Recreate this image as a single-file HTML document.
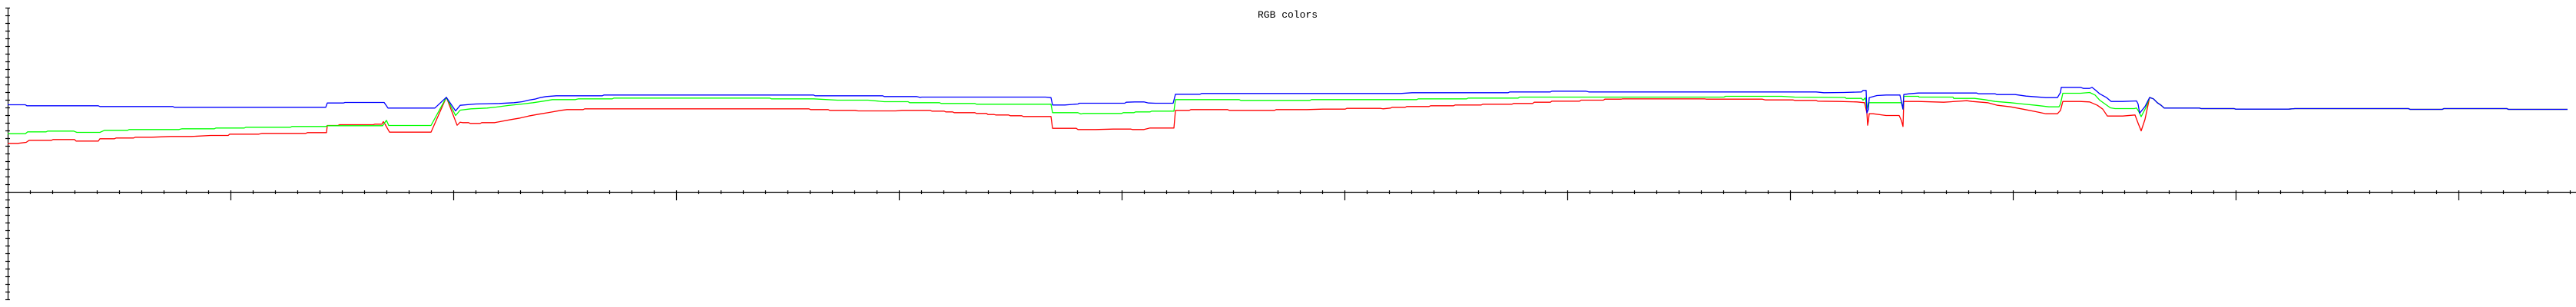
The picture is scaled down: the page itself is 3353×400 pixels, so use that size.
<!DOCTYPE html>
<html><head><meta charset="utf-8"><style>
html,body{margin:0;padding:0;background:#fff;}
svg{display:block;}
</style></head><body>
<svg id="chart" width="3353" height="400" viewBox="0 0 3353 400" xmlns="http://www.w3.org/2000/svg">
<text x="1676" y="23" text-anchor="middle" font-family="Liberation Mono, monospace" font-size="13" fill="#000">RGB colors</text>
<g id="axes"></g>
<g id="series"></g>
</svg>
<script>
// sample positions / values (value scale: larger value = lower on chart)
const redT = [10,23,34,38,67,69,97,99,128,130,149,151,174,176,197,222,249,274,297,299,337,341,398,400,425,426,440,442,486,488,497,499,501,507,561,581,595,599,602,610,612,625,627,644,652,665,677,688,701,715,730,738,759,761,1053,1055,1078,1080,1113,1117,1166,1174,1211,1213,1229,1231,1240,1242,1269,1271,1284,1286,1294,1296,1313,1315,1330,1332,1368,1370,1401,1403,1426,1449,1472,1474,1489,1497,1528,1530,1548,1550,1598,1600,1659,1661,1701,1722,1751,1753,1797,1800,1810,1812,1829,1831,1860,1862,1892,1894,1928,1930,1968,1970,1995,1997,2018,2020,2056,2058,2087,2089,2110,2112,2219,2221,2294,2298,2334,2336,2364,2366,2395,2417,2427,2430,2431,2432,2433,2438,2455,2472,2475,2477,2478,2497,2530,2560,2567,2587,2600,2617,2633,2650,2663,2678,2682,2685,2707,2720,2730,2737,2743,2763,2779,2783,2787,2792,2798,2803,2808,2813,2817];
const redV = [186.3,186.3,185,182.3,182.3,181.3,181.3,183.3,183.3,180.3,180.3,179.3,179.3,178.3,178.3,177.3,177.3,176,176,174.3,174.3,173.3,173.3,172.3,172.3,163,163,162,162,161.3,161.3,158,161,171.7,171.7,126.3,162.7,158.7,159.3,159.3,160.3,160.3,159.3,159.3,157.7,155.3,153.3,150.7,148.3,146,143.3,142.3,142.3,141.3,141.3,142.3,142.3,143.3,143.3,144,144,143.3,143.3,144.3,144.3,145.3,145.3,146.3,146.3,147.3,147.3,148.7,148.7,149.3,149.3,150.3,150.3,151.3,151.3,166.7,166.7,168.3,168.3,167.7,167.7,168.3,168.3,166.3,166.3,143.3,143.3,142.3,142.3,143.3,143.3,142.3,142.3,141.7,141.7,140.7,140.7,141.3,140.3,139.3,139.3,138.3,138.3,137.3,137.3,136.3,136.3,135.3,135.3,134.3,134.3,132.7,132.7,131.3,131.3,130,130,128.7,128.7,128.3,128.3,128.7,128.7,129.7,129.7,130.3,130.3,131.3,131.7,132.3,133.3,146.7,162.7,156.7,147.7,147.7,150,150,156.7,164.3,131.7,131.7,132.7,130.7,131.7,133.3,136.7,138.7,141.7,145,147.7,147.7,143.3,131.7,131.7,132.3,136.7,141.7,150.7,150.7,149.3,160,170,155,126.5,128.3,133.3,136.7,140.3];
const greenT = [10,33,36,60,62,96,100,130,136,166,168,233,237,279,281,318,320,378,380,424,426,498,503,506,561,581,593,599,613,634,646,661,680,694,711,719,749,753,797,799,1002,1004,1059,1090,1130,1151,1182,1184,1223,1225,1269,1271,1368,1370,1403,1407,1410,1460,1462,1476,1478,1497,1499,1528,1530,1613,1615,1705,1707,1844,1846,1909,1911,1976,1978,2244,2246,2319,2336,2400,2402,2403,2423,2425,2428,2430,2432,2475,2477,2478,2497,2498,2542,2543,2570,2583,2597,2617,2633,2650,2667,2680,2682,2685,2708,2720,2727,2733,2740,2747,2753,2778,2781,2784,2787,2793,2798,2803,2808,2813,2817];
const greenV = [173.7,173.7,171.3,171.3,170.3,170.3,172,172,169.3,169.3,168.3,168.3,167.3,167.3,166.3,166.3,165.3,165.3,164.3,164.3,163.3,163.3,156.3,163,163,126.3,150,143,141.3,140.3,139,137,135,133.3,130.7,129.3,129.3,128.3,128.3,127.3,127.3,128.3,128.3,130,130,132,132,133.3,133.3,134.3,134.3,135.3,135.3,146.3,146.3,148,147.3,147.3,146.3,146.3,145.3,145.3,144.3,144.3,129.3,129.3,130.3,130.3,129.3,129.3,128.3,128.3,127.3,127.3,126,126,125,125,126,126.5,126.7,127.7,127.7,130,127,141.7,133.3,133.3,141.7,125,125,126,126,127.7,127.7,129.3,131.7,133.3,135,136.7,138.7,138.7,135,121,121,120,123.3,130,135,140,141,141,140.3,145,151.5,140,126.5,128.3,133.3,136.7,140.3];
const blueT = [10,33,35,128,130,225,227,424,426,447,449,500,505,566,581,593,599,619,650,669,680,688,696,703,711,724,784,786,1059,1061,1149,1151,1193,1197,1200,1361,1368,1370,1386,1403,1405,1464,1466,1477,1489,1495,1504,1527,1530,1562,1564,1823,1838,1963,1965,2018,2020,2064,2068,2364,2374,2400,2423,2425,2429,2430,2432,2433,2443,2455,2473,2477,2478,2485,2497,2573,2575,2597,2599,2623,2637,2663,2678,2682,2683,2708,2712,2720,2723,2728,2733,2742,2748,2763,2781,2783,2785,2792,2798,2803,2808,2813,2817];
const blueV = [136,136,137.3,137.3,138.3,138.3,139.3,139.3,133.7,133.7,133,133,140.3,140.3,126.3,144,136.7,135,134.3,133.3,132,130,128.7,126.7,125.3,124.3,124.3,123.3,123.3,124.3,124.3,125.3,125.3,126.3,126,126,126.7,136.3,136.3,135,134,134,132.7,132.3,132.3,133.7,134,134,122.3,122.3,121.3,121.3,120.3,120.3,119.3,119.3,118.3,118.3,119.3,119.3,120.3,120,119.3,117.3,117.3,146.7,141.7,126.7,124,123.3,123.3,141.7,122.7,121.7,120.7,120.7,121.7,121.7,122.7,122.7,124.7,126.7,126.7,120,113.3,113.3,114.7,114.7,113.3,117.3,121.7,126.7,131.7,131.7,131,135,147,138.3,126.5,128.3,133.3,136.7,140.3];
// shared tail (after channels converge)
const tailT = [2863,2865,2908,2910,2979,2987,3135,3137,3179,3181,3263,3265,3342];
const tailV = [140.3,141,141,141.7,141.7,141,141,142,142,141,141,142,142];
const yTickValues = [10,20,30,40,50,60,70,80,90,100,110,120,130,140,150,160,170,180,190,200,210,220,230,240,250,260,270,280,290,300,310,320,330,340,350,360,370,380,390];

const NS = 'http://www.w3.org/2000/svg';
const xScale = t => 0 + (t - 0) * (3353 - 0) / (3353 - 0);
const yScale = v => 0 + (v - 0) * (400 - 0) / (400 - 0);
const X_AXIS_Y = 250, Y_AXIS_X = 10;

const axes = document.getElementById('axes');
function line(parent, x1, y1, x2, y2, w, name) {
  const l = document.createElementNS(NS, 'line');
  l.setAttribute('x1', x1); l.setAttribute('y1', y1);
  l.setAttribute('x2', x2); l.setAttribute('y2', y2);
  l.setAttribute('stroke', '#000'); l.setAttribute('stroke-width', w);
  
  
  parent.appendChild(l);
  return l;
}
line(axes, Y_AXIS_X + 0.5, 10, Y_AXIS_X + 0.5, 391, 1.2, 'y-axis');
line(axes, Y_AXIS_X, X_AXIS_Y + 0.5, 3353, X_AXIS_Y + 0.5, 1.2, 'x-axis');
yTickValues.forEach(v => {
  line(axes, 7, yScale(v) + 0.5, 13, yScale(v) + 0.5, 1.2, 'y-tick');
});
const minorStep = 29.0;
for (let i = 1; Y_AXIS_X + i * minorStep < 3353; i++) {
  const x = Math.round(Y_AXIS_X + i * minorStep) + 0.5;
  if (i % 10 === 0) line(axes, x, 248, x, 261, 1.2, 'x-major-tick');
  else line(axes, x, 248, x, 253, 1.2, 'x-minor-tick');
}

const series = document.getElementById('series');
function drawSeries(T, V, color, name) {
  const allT = T.concat(tailT), allV = V.concat(tailV);
  const d = allT.map((t, i) => (i ? 'L' : 'M') + xScale(t).toFixed(1) + ' ' + (yScale(allV[i]) + 0.5).toFixed(1)).join(' ');
  const p = document.createElementNS(NS, 'path');
  p.setAttribute('d', d);
  p.setAttribute('fill', 'none');
  p.setAttribute('stroke', color);
  p.setAttribute('stroke-width', '1.3');
  p.setAttribute('stroke-linejoin', 'round');
  
  
  series.appendChild(p);
}
drawSeries(redT, redV, '#ff0000', 'red-series');
drawSeries(greenT, greenV, '#00ff00', 'green-series');
drawSeries(blueT, blueV, '#0000ff', 'blue-series');
</script>
</body></html>
